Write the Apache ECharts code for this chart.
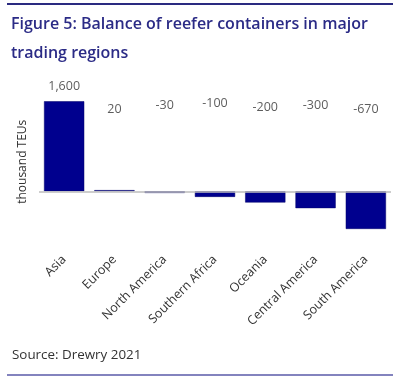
<!DOCTYPE html>
<html><head><meta charset="utf-8">
<script src="https://cdn.jsdelivr.net/npm/echarts@6/dist/echarts.min.js"></script>
<style>html,body{margin:0;padding:0;background:#fff}#c{width:400px;height:381px}</style>
</head><body><div id="c"></div>
<script>
// ---- data ----
const categories = ['Asia', 'Europe', 'North America', 'Southern Africa', 'Oceania', 'Central America', 'South America'];
const balance = [1600, 20, -30, -100, -200, -300, -670];
const titleText = 'Figure 5: Balance of reefer containers in major\ntrading regions';
const yAxisName = 'thousand TEUs';
const sourceText = 'Source: Drewry 2021';

// ---- styles ----
const navy = '#00008e';
const labelAnchorValue = 1530;            // level at which the value labels of small bars sit
const labelDy = [0, 4, 0, -2, 2, 0, 4];   // small vertical nudges of value labels (px)
const font = 'Open Sans';

const chart = echarts.init(document.getElementById('c'));
chart.setOption({
  animation: false,
  textStyle: { fontFamily: font },
  title: [
    { text: titleText, left: 6, top: 5,
      textStyle: { fontFamily: font, fontSize: 16, fontWeight: 600, color: '#2b2b86', lineHeight: 29 } },
    { text: sourceText, left: 7, top: 344,
      textStyle: { fontFamily: font, fontSize: 13.4, fontWeight: 'normal', color: '#333' } }
  ],
  graphic: [
    { type: 'line', shape: { x1: 7, y1: 4, x2: 393, y2: 4 }, style: { stroke: '#2a2a80', lineWidth: 2 } },
    { type: 'line', shape: { x1: 7, y1: 375, x2: 393, y2: 375 }, style: { stroke: '#5a5aa8', lineWidth: 1.5 } }
  ],
  grid: { left: 39, right: 9, top: 90, height: 157.5 },
  xAxis: {
    type: 'category', data: categories,
    axisLine: { show: false, onZero: false }, axisTick: { show: false },
    axisLabel: { rotate: 45, margin: 10, color: '#333', fontSize: 12.5, interval: 0 }
  },
  yAxis: {
    type: 'value', min: -1000, max: 1800,
    axisLine: { show: false }, axisTick: { show: false }, axisLabel: { show: false },
    splitLine: { show: false },
    name: yAxisName, nameLocation: 'middle', nameGap: 10,
    nameTextStyle: { color: '#333', fontSize: 12, padding: [0, 0, 0, 14] }
  },
  series: [
    {
      type: 'bar', data: balance, barWidth: '80%',
      itemStyle: { color: navy, borderColor: '#00006a', borderWidth: 0.5 },
      label: { show: false },
      markLine: {
        silent: true, symbol: 'none', label: { show: false },
        lineStyle: { color: '#bdbdbd', width: 1.5, type: 'solid' },
        data: [{ yAxis: 0 }]
      },
      z: 2
    },
    {
      type: 'scatter', symbolSize: 0, silent: true,
      data: balance.map((v, i) => ({
        value: i === 0 ? v : labelAnchorValue,
        label: { offset: [0, (i === 0 ? -15 : 0) + labelDy[i]] }
      })),
      label: {
        show: true, position: 'inside', color: '#333', fontSize: 12.5,
        formatter: p => balance[p.dataIndex].toLocaleString('en-US')
      },
      z: 3
    }
  ]
});
</script></body></html>
